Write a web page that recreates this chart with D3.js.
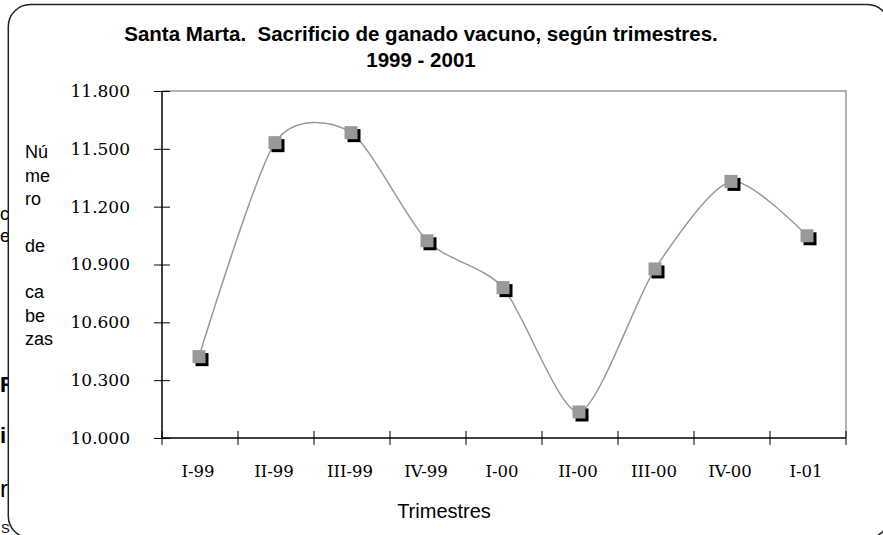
<!DOCTYPE html>
<html><head><meta charset="utf-8">
<script src="https://cdnjs.cloudflare.com/ajax/libs/d3/7.8.5/d3.min.js"></script>
<style>body{margin:0;background:#fff;} svg{display:block;}</style>
</head><body>
<script>
const categories = ["I-99","II-99","III-99","IV-99","I-00","II-00","III-00","IV-00","I-01"];
const values = [10422, 11532, 11584, 11023, 10780, 10135, 10877, 11331, 11049];
const yTicks = [10000, 10300, 10600, 10900, 11200, 11500, 11800];
const titleLines = ["Santa Marta.  Sacrificio de ganado vacuno, según trimestres.", "1999 - 2001"];
const yLabelLines = ["Nú","me","ro","","de","","ca","be","zas"];
const xTitle = "Trimestres";

(function(){
const W = 883, H = 535;
const svg = d3.select("body").append("svg").attr("width", W).attr("height", H);
const pL = 162, pR = 846, pT = 91, pB = 438;

const x = d3.scaleBand().domain(categories).range([pL, pR]);
const y = d3.scaleLinear().domain([10000, 11800]).range([pB, pT]);
const loc = d3.formatLocale({decimal: ",", thousands: ".", grouping: [3], currency: ["$", ""]});
const fmt = loc.format(",.0f");

// background document fragments, partly hidden behind the chart frame
const frag = svg.append("g").attr("font-family", "Liberation Sans, Arial, sans-serif").attr("fill", "#000");
frag.append("text").attr("x", 0).attr("y", 220).attr("font-size", 18).text("ci");
frag.append("text").attr("x", 0).attr("y", 242).attr("font-size", 18).text("e");
frag.append("text").attr("x", 0).attr("y", 392).attr("font-size", 22).attr("font-weight", "bold").text("R");
frag.append("text").attr("x", 0).attr("y", 443).attr("font-size", 22).attr("font-weight", "bold").text("i");
frag.append("text").attr("x", 0).attr("y", 497).attr("font-size", 24).text("r");
frag.append("text").attr("x", 1).attr("y", 533).attr("font-size", 13).text("S");

// frame (white fill covers the background)
svg.append("rect").attr("x", 8.3).attr("y", 4.5).attr("width", 881).attr("height", 533.5)
  .attr("rx", 22).attr("ry", 22).attr("fill", "#fff").attr("stroke", "#222").attr("stroke-width", 1.5);

// title
svg.append("g").selectAll("text").data(titleLines).join("text")
  .attr("x", 421).attr("y", (d, i) => 40.5 + i * 26.5)
  .attr("text-anchor", "middle").attr("font-family", "Liberation Sans, Arial, sans-serif")
  .style("white-space", "pre").attr("xml:space", "preserve")
  .attr("font-weight", "bold").attr("font-size", 20.5).attr("fill", "#000").text(d => d);

// plot frame top/right (gray)
svg.append("path").attr("d", `M${pL},${pT}H${pR}V${pB}`)
  .attr("fill", "none").attr("stroke", "#999").attr("stroke-width", 1.5);

// y axis
const yAxis = svg.append("g").attr("transform", `translate(${pL},0)`)
  .call(d3.axisLeft(y).tickValues(yTicks).tickFormat(fmt).tickSize(8).tickPadding(24));
yAxis.select(".domain").attr("stroke", "#000").attr("stroke-width", 1.5).attr("d", `M0,${pT}V${pB}`);
yAxis.selectAll(".tick line").attr("x1", 8).attr("x2", -8).attr("stroke", "#000");
yAxis.selectAll(".tick text").attr("font-family", "DejaVu Serif, serif").attr("font-size", 17).attr("fill", "#000");

// x axis
const xAxis = svg.append("g").attr("transform", `translate(0,${pB})`)
  .call(d3.axisBottom(x).tickSize(0).tickPadding(0));
xAxis.select(".domain").attr("stroke", "#000").attr("stroke-width", 1.5).attr("d", `M${pL},0H${pR}`);
xAxis.selectAll(".tick text").attr("y", 39).attr("dy", 0).attr("dx", -2)
  .attr("font-family", "DejaVu Serif, serif").attr("font-size", 16.5).attr("fill", "#000");
const bounds = categories.map(c => x(c)).concat([x.range()[1]]);
xAxis.append("g").selectAll("line").data(bounds).join("line")
  .attr("x1", d => d).attr("x2", d => d).attr("y1", -7).attr("y2", 7)
  .attr("stroke", "#000").attr("stroke-width", 1);

// y label
svg.append("g").selectAll("text").data(yLabelLines).join("text")
  .attr("x", 25).attr("y", (d, i) => 158.3 + i * 23.35)
  .attr("font-family", "Liberation Sans, Arial, sans-serif").attr("font-size", 18).attr("fill", "#000")
  .text(d => d);

// x title
svg.append("text").attr("x", 444).attr("y", 518).attr("text-anchor", "middle")
  .attr("font-family", "Liberation Sans, Arial, sans-serif").attr("font-size", 20).attr("fill", "#000").text(xTitle);

// line
const px = c => x(c) + x.bandwidth() / 2 - 1;
const pts = categories.map((c, i) => [px(c), y(values[i])]);
svg.append("path").attr("d", d3.line().curve(d3.curveCardinal.tension(0.25))(pts))
  .attr("fill", "none").attr("stroke", "#999").attr("stroke-width", 1.5);

// markers
const ms = 13;
svg.append("g").selectAll("rect").data(pts).join("rect")
  .attr("x", d => d[0] - ms / 2 + 3).attr("y", d => d[1] - ms / 2 + 3)
  .attr("width", ms).attr("height", ms).attr("fill", "#000");
svg.append("g").selectAll("rect").data(pts).join("rect")
  .attr("x", d => d[0] - ms / 2).attr("y", d => d[1] - ms / 2)
  .attr("width", ms).attr("height", ms).attr("fill", "#999");
})();
</script>
</body></html>
